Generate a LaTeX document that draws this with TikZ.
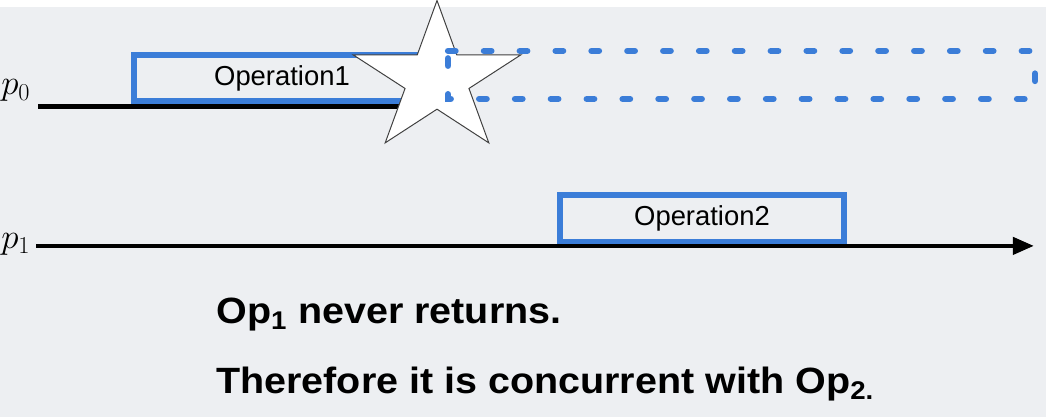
\documentclass[tikz,border=0pt]{standalone}
\usepackage[no-math]{fontspec}
\setmainfont{Liberation Sans}
\newfontfamily\notefont[FakeStretch=1.08]{Liberation Sans}
\usetikzlibrary{positioning,arrows.meta}

\definecolor{opblue}{RGB}{59,125,216}
\definecolor{slidebg}{RGB}{237,239,242}

\begin{document}
\begin{tikzpicture}[
  x=0.025cm, y=0.025cm,
  opbox/.style={
    draw=opblue,
    line width=4.2pt,
    inner sep=0pt,
    font=\fontsize{19.5}{23}\selectfont
  },
  openbox/.style={
    draw=opblue,
    line width=4.4pt,
    line cap=round,
    dash pattern=on 5.4pt off 20.1pt
  },
  procline/.style={line width=3.2pt},
  proclabel/.style={inner sep=0pt, font=\fontsize{27}{32}\selectfont},
  crash/.style={fill=white, draw=black!75, line width=0.7pt, line join=miter},
  note/.style={inner sep=0pt, anchor=base west, font=\notefont\bfseries\fontsize{26}{31}\selectfont}
]

% slide background
\fill[slidebg] (0,0) rectangle (1046,410);

% process p0
\node[proclabel, anchor=base west] (p0) at (1,322) {$p_0$};
\node[opbox, minimum width=7.4cm, minimum height=1.15cm] (op1) at (282,338.5) {Operation1};
\coordinate (p0start) at (38,310.5);
\coordinate (p0end) at (420,310.5);
\draw[procline] (p0start) -- (p0end);

% crash star
\begin{scope}[shift={(437,337.7)}, xscale=1.12]
  \draw[crash] (90:78.7) -- (126:30) -- (162:78.7) -- (198:30) -- (234:78.7)
    -- (270:30) -- (306:78.7) -- (342:30) -- (18:78.7) -- (54:30) -- cycle;
\end{scope}

% operation that never returns
\coordinate (rest1) at (448,366);
\coordinate (rest2) at (1035,318);
\draw[openbox] (rest1) -- (rest1 -| rest2) -- (rest2) -- (rest2 -| rest1) -- cycle;

% process p1
\node[proclabel, anchor=base west] (p1) at (1,168.4) {$p_1$};
\node[opbox, minimum width=7.1cm, minimum height=1.175cm] (op2) at (702,198.5) {Operation2};
\coordinate (p1start) at (36,171);
\coordinate (p1end) at (1034,171);
\draw[procline, -{Triangle[length=15pt, width=12pt]}] (p1start) -- (p1end);

% conclusion
\node[note] (line1) at (216,93) {Op\textsubscript{1} never returns.};
\node[note] (line2) at (216,23) {Therefore it is concurrent with Op\textsubscript{2.}};

\end{tikzpicture}
\end{document}
